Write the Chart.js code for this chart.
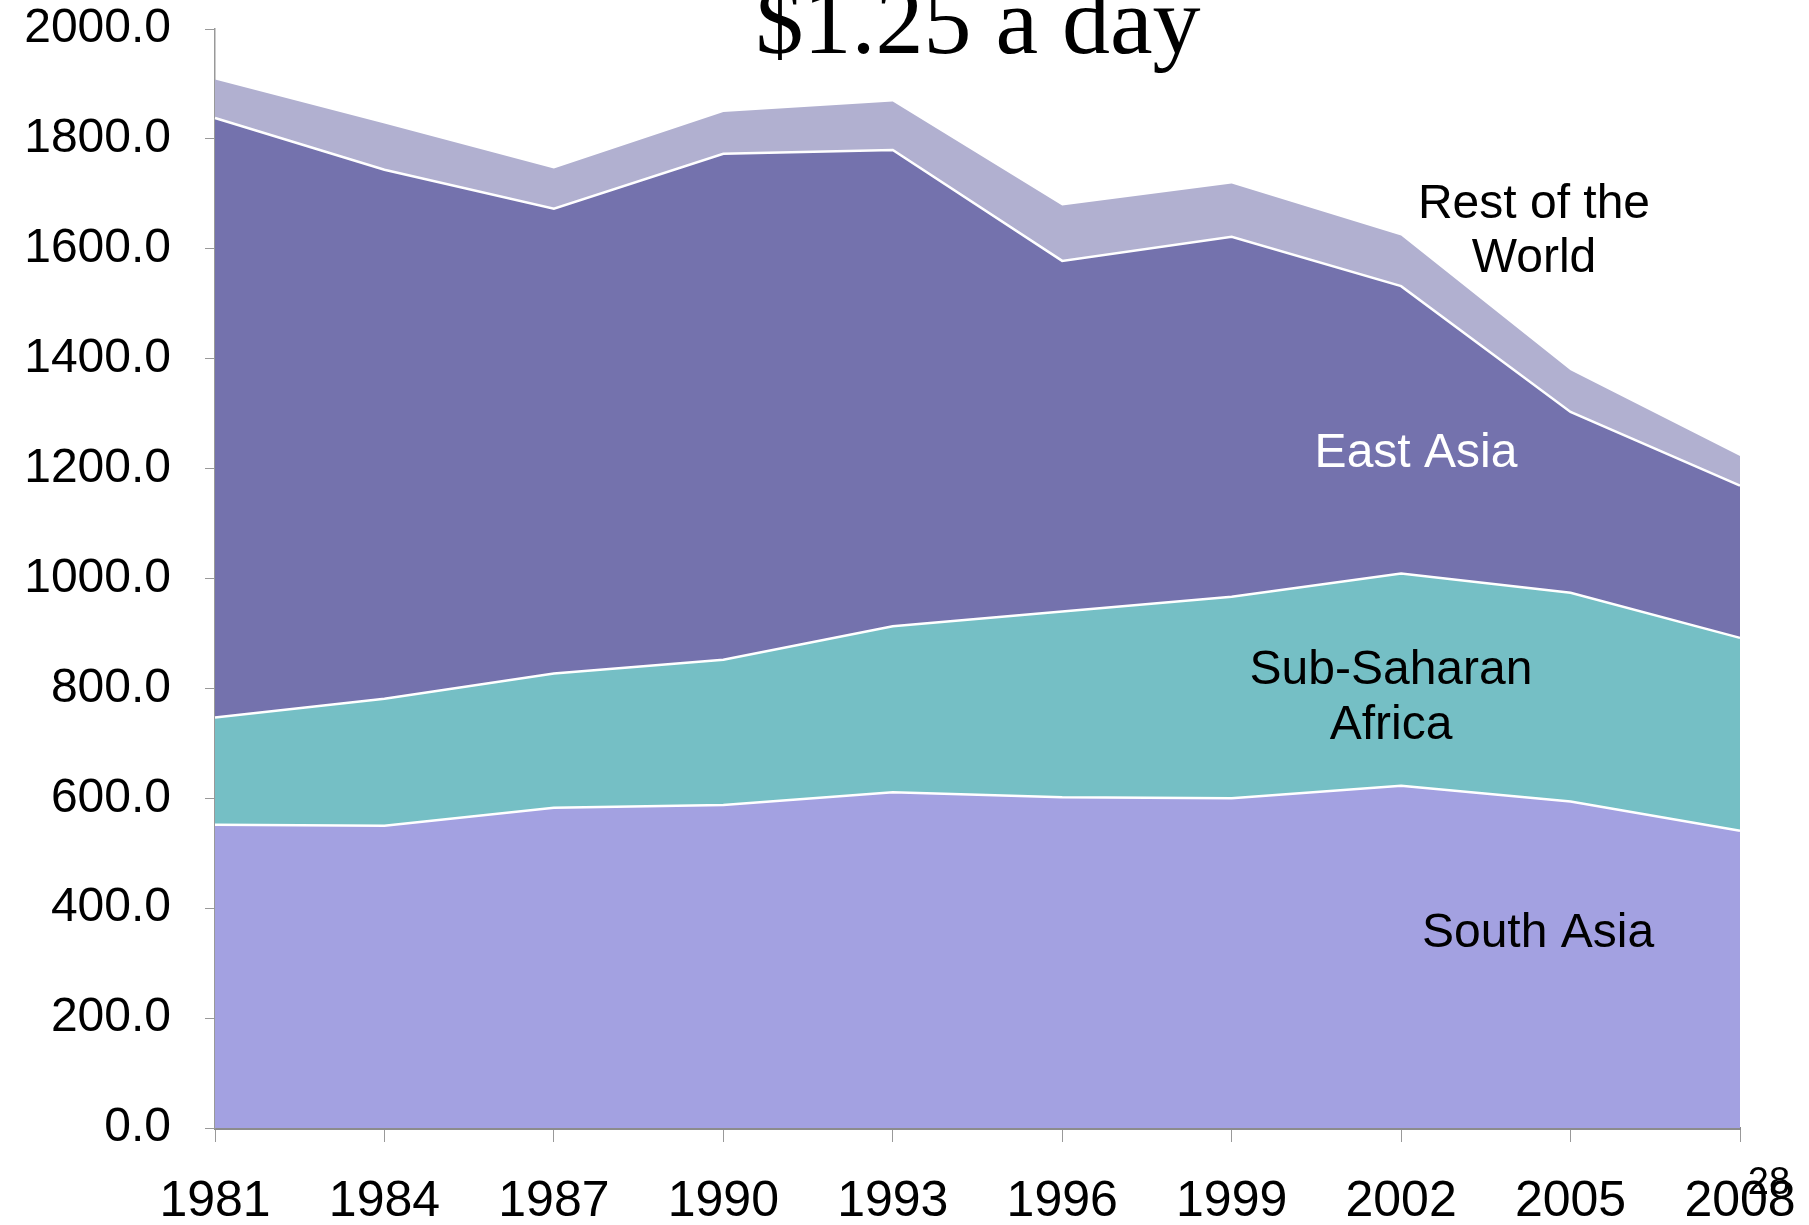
<!DOCTYPE html>
<html>
<head>
<meta charset="utf-8">
<script src="https://cdn.jsdelivr.net/npm/chart.js@4.4.1/dist/chart.umd.min.js"></script>
<style>
  html, body { margin: 0; padding: 0; background: #fff; }
  #chart { display: block; }
</style>
</head>
<body>
<canvas id="chart" width="1809" height="1225"></canvas>
<script>
// Years on the x axis
const years = ['1981', '1984', '1987', '1990', '1993', '1996', '1999', '2002', '2005', '2008'];

// People living below $1.25 a day (millions)
const southAsia = [552, 550, 583, 588, 611, 602, 600, 623, 594, 541];
const subSaharanAfrica = [195, 231, 244, 264, 302, 338, 367, 386, 380, 351];
const eastAsia = [1091, 963, 846, 921, 867, 638, 655, 523, 329, 277];
const restOfWorld = [70, 84, 73, 76, 88, 101, 97, 92, 76, 54];

const yTicks = [0, 200, 400, 600, 800, 1000, 1200, 1400, 1600, 1800, 2000];

const sansFont = "'Liberation Sans', Arial, sans-serif";

// title, area labels and page number drawn on top
const textPlugin = {
    id: 'slideText',
    afterDraw(chart) {
        const ctx = chart.ctx;
        ctx.save();
        ctx.textAlign = 'center';
        ctx.textBaseline = 'alphabetic';

        ctx.fillStyle = '#000';
        ctx.font = "96px 'Liberation Serif', 'Times New Roman', serif";
        ctx.fillText('$1.25 a day', 978, 53);

        ctx.font = '48px ' + sansFont;
        ctx.textBaseline = 'middle';
        ctx.fillStyle = '#000';
        ctx.fillText('Rest of the', 1534, 205);
        ctx.fillText('World', 1534, 259);
        ctx.fillStyle = '#fff';
        ctx.fillText('East Asia', 1416, 454);
        ctx.fillStyle = '#000';
        ctx.fillText('Sub-Saharan', 1391, 671);
        ctx.fillText('Africa', 1391, 726);
        ctx.fillText('South Asia', 1538, 934);

        ctx.font = '38px ' + sansFont;
        ctx.textBaseline = 'alphabetic';
        ctx.fillText('28', 1769, 1194);
        ctx.restore();
    }
};

const ctx = document.getElementById('chart').getContext('2d');
new Chart(ctx, {
    type: 'line',
    data: {
        labels: years,
        datasets: [
            {
                label: 'South Asia',
                data: southAsia,
                backgroundColor: '#a3a1e1',
                borderColor: '#ffffff',
                fill: 'origin'
            },
            {
                label: 'Sub-Saharan Africa',
                data: subSaharanAfrica,
                backgroundColor: '#75bfc5',
                borderColor: '#ffffff',
                fill: '-1'
            },
            {
                label: 'East Asia',
                data: eastAsia,
                backgroundColor: '#7472ad',
                borderColor: '#ffffff',
                fill: '-1'
            },
            {
                label: 'Rest of the World',
                data: restOfWorld,
                backgroundColor: '#b1b0d0',
                borderColor: 'rgba(255,255,255,0)',
                fill: '-1'
            }
        ]
    },
    options: {
        responsive: false,
        animation: false,
        layout: { padding: { top: 29, right: 69, left: 0, bottom: 0 } },
        elements: {
            line: { tension: 0, borderWidth: 2.5 },
            point: { radius: 0, hoverRadius: 0 }
        },
        plugins: {
            legend: { display: false },
            title: { display: false },
            tooltip: { enabled: false }
        },
        scales: {
            x: {
                offset: false,
                grid: {
                    drawOnChartArea: false,
                    drawTicks: true,
                    tickLength: 14,
                    color: '#999'
                },
                border: { display: true, color: '#8c8c8c', width: 3 },
                ticks: {
                    color: '#000',
                    padding: 30,
                    maxRotation: 0,
                    autoSkip: false,
                    font: { family: sansFont, size: 50 }
                },
                afterFit(scale) {
                    scale.height = 97;
                    scale.paddingLeft = 0;
                    scale.paddingRight = 0;
                }
            },
            y: {
                stacked: true,
                min: 0,
                max: 2000,
                afterBuildTicks(scale) {
                    scale.ticks = yTicks.map(v => ({ value: v }));
                },
                grid: {
                    drawOnChartArea: false,
                    drawTicks: true,
                    tickLength: 10,
                    color: '#999'
                },
                border: { display: true, color: '#999', width: 1.5 },
                ticks: {
                    color: '#000',
                    padding: 34,
                    callback: v => v.toFixed(1),
                    font: { family: sansFont, size: 48 }
                },
                afterFit(scale) {
                    scale.width = 215;
                    scale.paddingTop = 0;
                    scale.paddingBottom = 0;
                }
            }
        }
    },
    plugins: [textPlugin]
});
</script>
</body>
</html>
